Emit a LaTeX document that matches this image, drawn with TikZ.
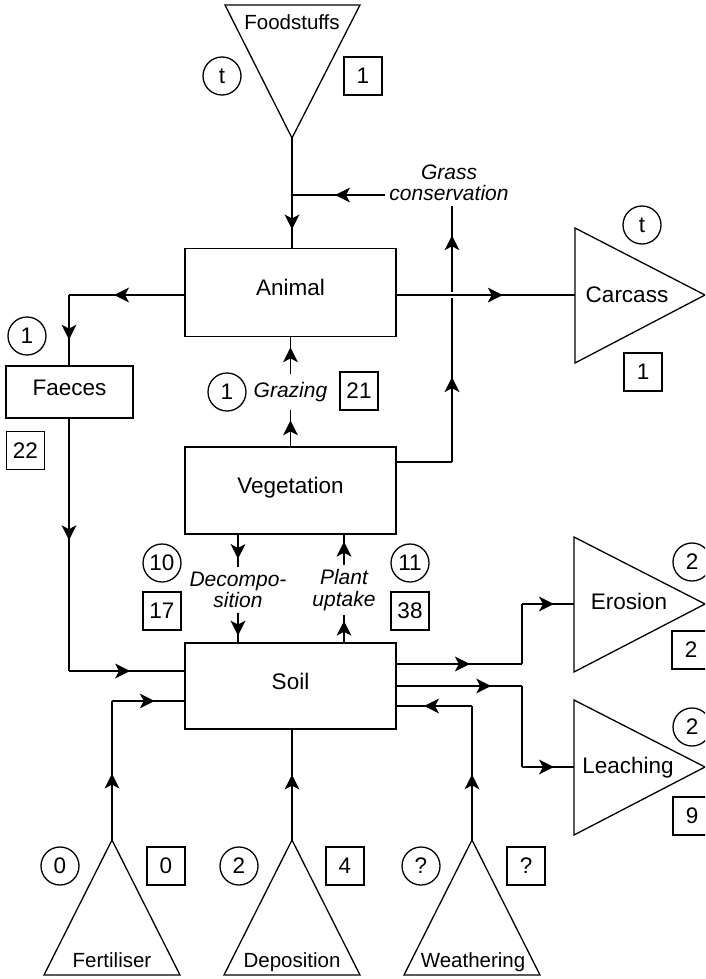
\documentclass[tikz,border=0pt]{standalone}
\usepackage{fontspec}
\setmainfont{Liberation Sans}
\usetikzlibrary{calc}
\usetikzlibrary{decorations.markings}

\begin{document}
\begin{tikzpicture}[x=1pt,y=-1pt,line width=1.3pt,
		font=\fontsize{22.5}{25}\selectfont,
		pool/.style={rectangle,draw=black,inner sep=0pt,minimum width=211pt,minimum height=88pt,
			text height=16pt,text depth=10pt},
		rate/.style={circle,draw=black,inner sep=0pt,minimum size=38pt},
		amount/.style={rectangle,draw=black,inner sep=0pt,minimum size=38pt},
		process/.style={inner sep=4pt,align=center,font=\fontsize{21}{21.5}\selectfont\itshape},
		source/.style={anchor=base,font=\fontsize{20.5}{22}\selectfont},
		flow/.style={postaction={decorate},decoration={markings,
			mark=at position #1 with {\fill (8pt,0pt) -- (-7pt,7.5pt) -- (-3pt,0pt) -- (-7pt,-7.5pt) -- cycle;}}},
		flow/.default=0.5]
		\clip (0,0) rectangle (705,979);
		
		% pools
		\node[pool]                                          (animal) at (290.5,292.5) {Animal};
		\node[pool,minimum height=87pt]                      (veg)    at (290.5,490.5) {Vegetation};
		\node[pool,minimum height=86pt]                      (soil)   at (290.5,686)   {Soil};
		\node[pool,minimum width=127pt,minimum height=52pt]  (faeces) at (69.5,392)    {Faeces};
		
		% inputs and losses
		\coordinate (food)     at (292,138);
		\coordinate (carcass)  at (575,295);
		\coordinate (erosion)  at (574,604);
		\coordinate (leaching) at (574,767);
		\coordinate (fert)     at (112,840);
		\coordinate (depos)    at (292,840);
		\coordinate (weath)    at (472,840);
		\draw (food) -- (225,5) -- (360,5) -- cycle;
		\draw (carcass) -- (575,228) -- (705,295) -- (575,363) -- cycle;
		\draw (erosion) -- (574,537) -- (705,604) -- (574,672) -- cycle;
		\draw (leaching) -- (574,700) -- (705,767) -- (574,835) -- cycle;
		\draw (fert) -- (44,975) -- (180,975) -- cycle;
		\draw (depos) -- (224,975) -- (360,975) -- cycle;
		\draw (weath) -- (404,975) -- (540,975) -- cycle;
		\node[source] (foodlbl)  at (292,30)  {Foodstuffs};
		\node[anchor=base] (carclbl)  at (627,302) {Carcass};
		\node[anchor=base] (eroslbl)  at (629,609) {Erosion};
		\node[anchor=base] (leachlbl) at (628,773) {Leaching};
		\node[source] (fertlbl)  at (112,967) {Fertiliser};
		\node[source] (deposlbl) at (292,967) {Deposition};
		\node[source] (weathlbl) at (473,967) {Weathering};
		
		% rates and amounts
		\node[rate]   (foodrate)   at (222,76)  {t};
		\node[amount] (foodamt)    at (363,76)  {1};
		\node[rate]   (faecesrate) at (27,336)  {1};
		\node[amount] (faecesamt)  at (25.5,450.5) {22};
		\node[rate]   (grazrate)   at (227,392) {1};
		\node[amount] (grazamt)    at (359,391) {21};
		\node[rate]   (carcrate)   at (642,225) {t};
		\node[amount] (carcamt)    at (643,372) {1};
		\node[rate]   (decrate)    at (162,563) {10};
		\node[amount] (decamt)     at (162,611) {17};
		\node[rate]   (uprate)     at (410,563) {11};
		\node[amount] (upamt)      at (410,611) {38};
		\node[rate]   (erosrate)   at (692,562) {2};
		\node[amount] (erosamt)    at (691,650) {2};
		\node[rate]   (leachrate)  at (692,727) {2};
		\node[amount] (leachamt)   at (692,816) {9};
		\node[rate]   (fertrate)   at (60,866)  {0};
		\node[amount] (fertamt)    at (166,866) {0};
		\node[rate]   (deposrate)  at (239,866) {2};
		\node[amount] (deposamt)   at (345,866) {4};
		\node[rate]   (weathrate)  at (421,866) {?};
		\node[amount] (weathamt)   at (526,866) {?};
		
		% processes
		\node[process]              (grass)   at (449,183) {Grass\\conservation};
		\node[process,inner sep=8pt] (grazing) at (290.5,392) {Grazing};
		\node[process]              (decomp)  at (238,590) {Decompo-\\sition};
		\node[process]              (uptake)  at (344,590) {Plant\\uptake};
		
		% feeding and grass conservation
		\coordinate (feedjoin) at (292,195);
		\coordinate (vegturn)  at (452,462);
		\coordinate (cross)    at (452,295);
		\draw (food) -- (feedjoin);
		\draw[flow] (feedjoin) -- (feedjoin |- animal.north);
		\draw (veg.east |- vegturn) -- (vegturn);
		\draw[flow=0.46] (vegturn) -- (cross);
		\draw[flow=0.58] (cross) -- (grass.south -| cross);
		\draw[flow=0.45] (grass.west |- feedjoin) -- (feedjoin);
		\draw[flow=0.55,preaction={draw=white,line width=6pt,shorten <=10pt,shorten >=10pt}]
			(animal.east |- cross) -- (carcass);
		
		% grazing
		\draw[flow] (veg.north) -- (grazing.south);
		\draw[flow] (grazing.north) -- (animal.south);
		
		% excretion
		\coordinate (faecesturn) at (69,295);
		\coordinate (faecesin)   at (69,671);
		\draw[flow=0.54] (animal.west |- faecesturn) -- (faecesturn);
		\draw[flow=0.52] (faecesturn) -- (faecesturn |- faeces.north);
		\draw[flow=0.45] (faecesturn |- faeces.south) -- (faecesin);
		\draw[flow=0.46] (faecesin) -- (soil.west |- faecesin);
		
		% soil and vegetation
		\draw[flow] (veg.south -| decomp) -- (decomp.north);
		\draw[flow] (decomp.south) -- (soil.north -| decomp);
		\draw[flow] (soil.north -| uptake) -- (uptake.south);
		\draw[flow] (uptake.north) -- (veg.south -| uptake);
		
		% inputs to soil
		\coordinate (fertin)  at (112,701);
		\coordinate (weathin) at (472,706);
		\draw[flow=0.42] (fert) -- (fertin);
		\draw[flow=0.48] (fertin) -- (soil.west |- fertin);
		\draw[flow=0.52] (depos) -- (soil.south -| depos);
		\draw[flow=0.43] (weath) -- (weathin);
		\draw[flow=0.53] (weathin) -- (soil.east |- weathin);
		
		% losses from soil
		\coordinate (erosturn)  at (522,664);
		\coordinate (leachturn) at (522,686);
		\draw[flow=0.52] (soil.east |- erosturn) -- (erosturn);
		\draw (erosturn) -- (erosturn |- erosion);
		\draw[flow=0.46] (erosturn |- erosion) -- (erosion);
		\draw[flow=0.69] (soil.east |- leachturn) -- (leachturn);
		\draw (leachturn) -- (leachturn |- leaching);
		\draw[flow=0.46] (leachturn |- leaching) -- (leaching);
\end{tikzpicture}
\end{document}
